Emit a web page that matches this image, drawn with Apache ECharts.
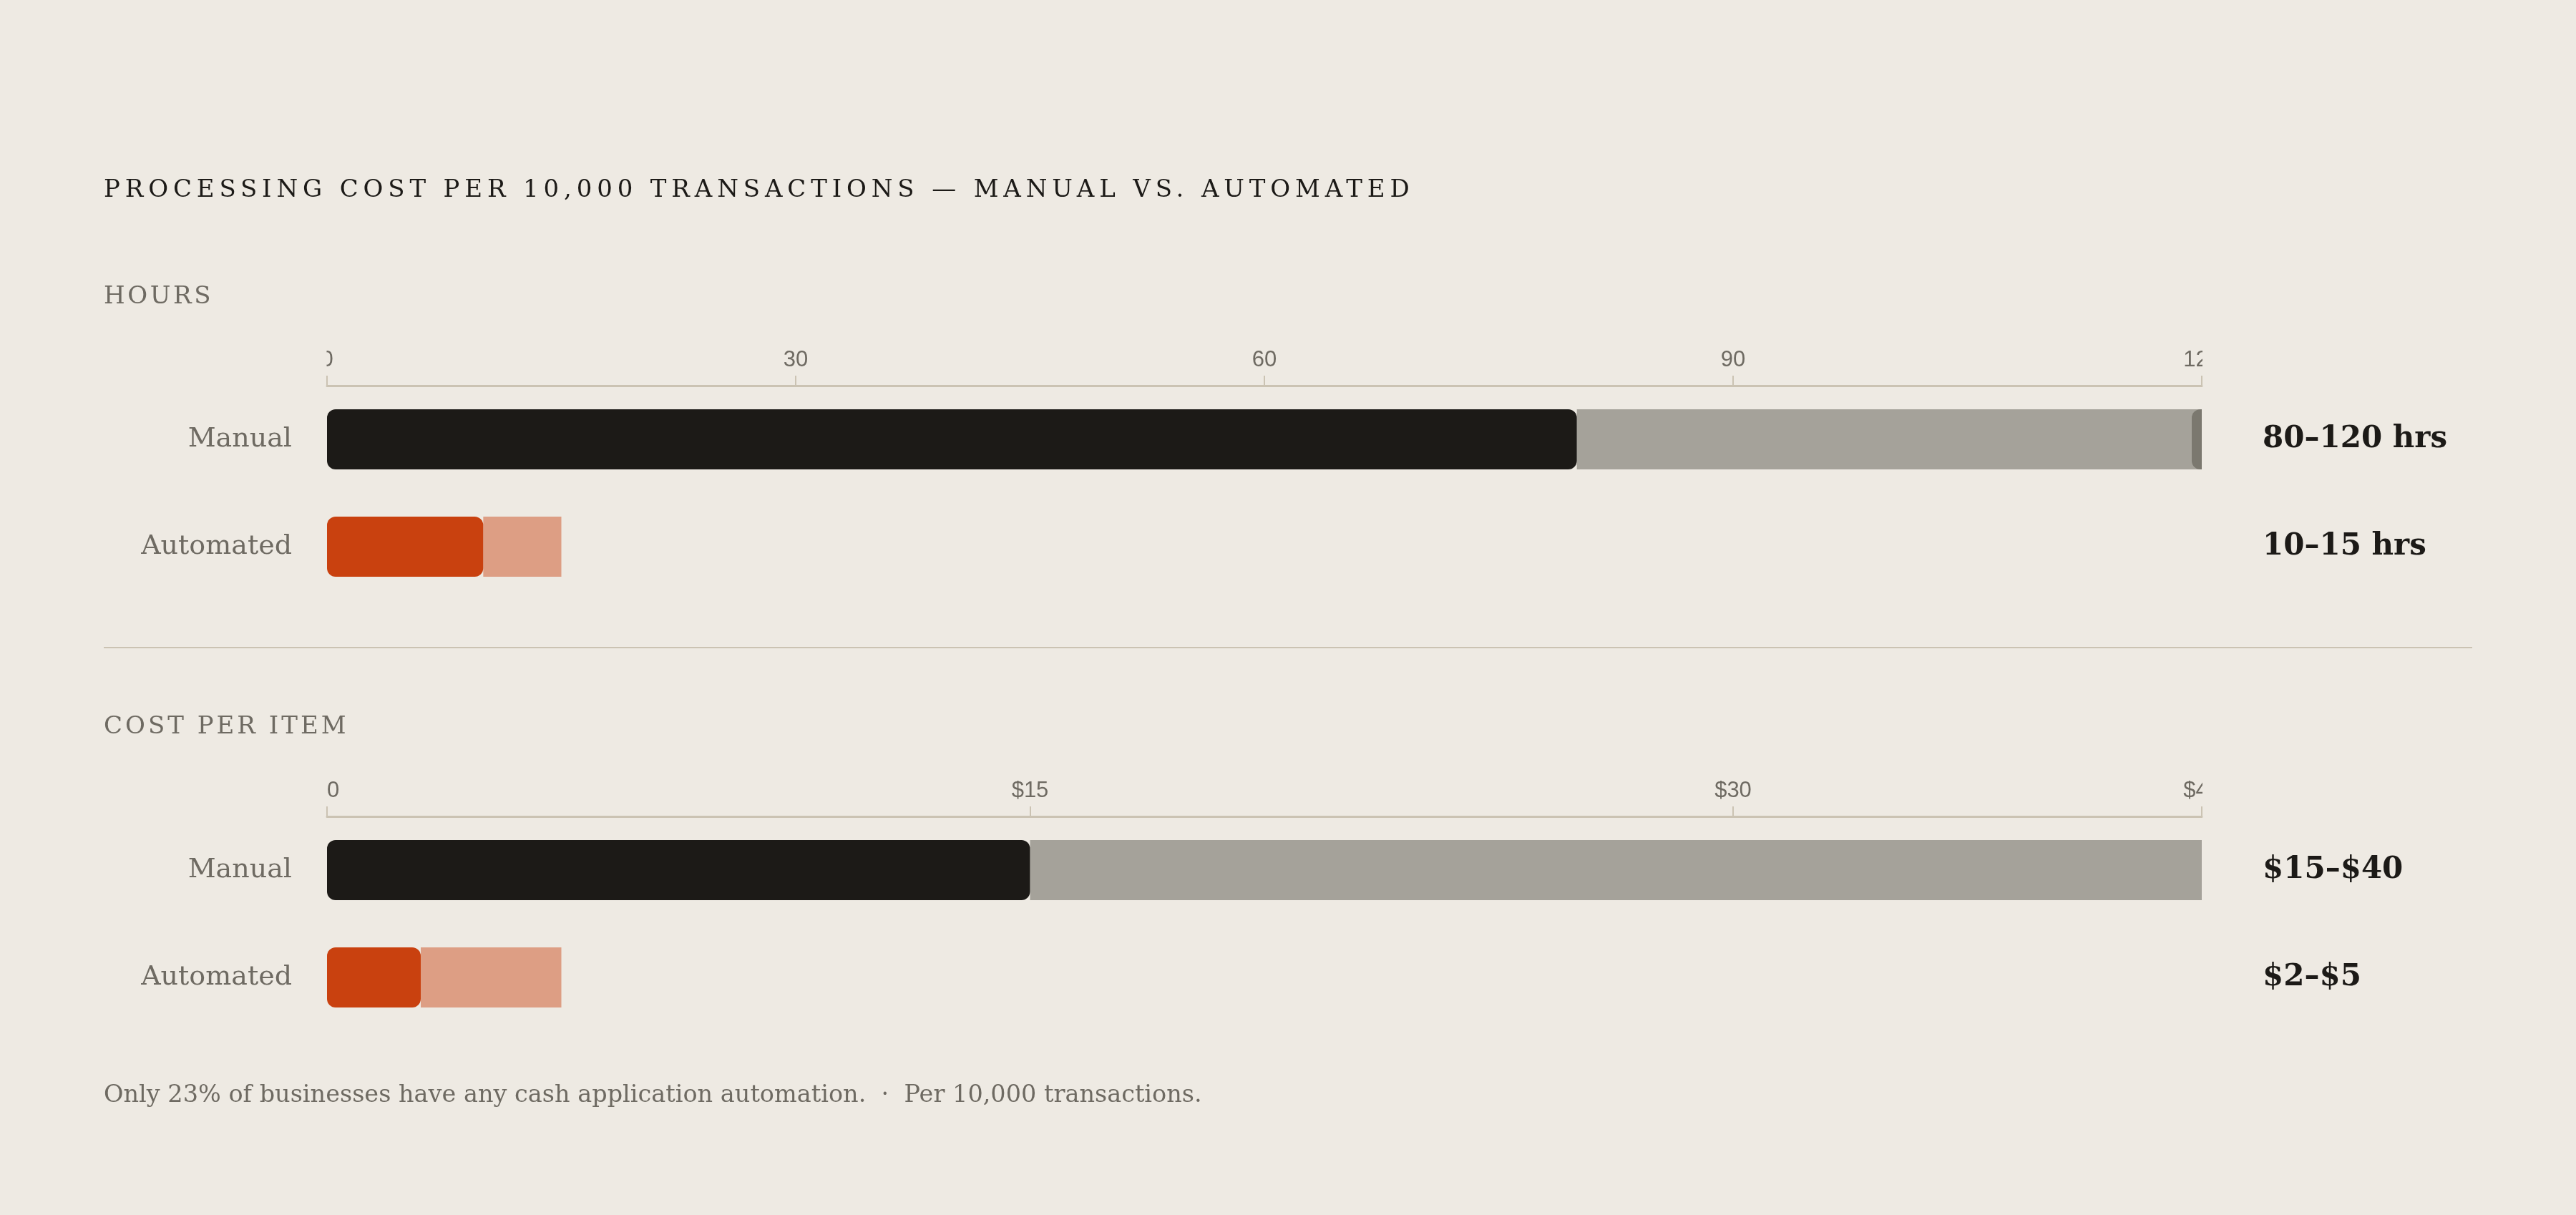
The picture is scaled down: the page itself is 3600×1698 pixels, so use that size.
<!DOCTYPE html>
<html>
<head>
<meta charset="utf-8">
<script src="https://cdn.jsdelivr.net/npm/echarts@6/dist/echarts.min.js"></script>
<style>
html,body{margin:0;padding:0;background:#eeeae3;}
#chart{width:3600px;height:1698px;}
</style>
</head>
<body>
<div id="chart"></div>
<script>
// ---------- data ----------
var categories = ['Manual', 'Automated'];
var hoursLow = [80, 10];
var hoursHigh = [120, 15];
var hoursCap = [120, null];
var costLow = [15, 2];
var costHigh = [40, 5];
var hoursAxis = {min: 0, max: 120, interval: 30};
var costAxis = {min: 0, max: 40, interval: 15};
var titleText = 'PROCESSING COST PER 10,000 TRANSACTIONS \u2014 MANUAL VS. AUTOMATED';
var sectionHours = 'HOURS';
var sectionCost = 'COST PER ITEM';
var footnote = 'Only 23% of businesses have any cash application automation.  \u00B7  Per 10,000 transactions.';

// letter-spacing for the spaced capital headings only
(function(){
  var spacing = {};
  spacing[titleText] = '6.85px';
  spacing[sectionHours] = '3.6px';
  spacing[sectionCost] = '4px';
  var P = CanvasRenderingContext2D.prototype;
  var of = P.fillText;
  P.fillText = function(t,x,y,w){
    if ('letterSpacing' in this) {
      this.letterSpacing = spacing.hasOwnProperty(t) ? spacing[t] : '0px';
    }
    if (w === undefined) of.call(this,t,x,y); else of.call(this,t,x,y,w);
    if ('letterSpacing' in this) this.letterSpacing = '0px';
  };
})();

// ---------- styles ----------
var BG = '#eeeae3';
var INK = '#1c1a17';
var MUTED = '#6e6a62';
var RULE = '#cbc3b3';
var lowColors = ['#1c1a17', '#c9410f'];
var rangeColors = ['#a5a29a', '#dd9e84'];
var SERIF = "'DejaVu Serif', serif";
var SANS = "'Liberation Sans', Arial, sans-serif";

var GL = 457, GW = 2620, GH = 300;
var tops = [539, 1141];

function xAxisFor(idx, ax, fmt, alignMin) {
  return {
    type: 'value', gridIndex: idx, position: 'top',
    min: ax.min, max: ax.max, interval: ax.interval,
    axisLine: {show: true, lineStyle: {color: RULE, width: 3}},
    axisTick: {show: true, length: 14, lineStyle: {color: RULE, width: 2}},
    splitLine: {show: false},
    axisLabel: {color: MUTED, fontSize: 31, fontFamily: SANS, margin: 20, formatter: fmt,
      alignMinLabel: alignMin || 'center', alignMaxLabel: 'center'}
  };
}
function yLeft(idx) {
  return {
    type: 'category', gridIndex: idx, data: categories, inverse: true, position: 'left',
    axisLine: {show: false}, axisTick: {show: false}, splitLine: {show: false},
    axisLabel: {color: MUTED, fontSize: 38, fontFamily: SERIF, margin: 49}
  };
}
function yRight(idx, fmt) {
  return {
    type: 'category', gridIndex: idx, data: categories, inverse: true, position: 'right',
    axisLine: {show: false}, axisTick: {show: false}, splitLine: {show: false},
    axisLabel: {color: INK, fontSize: 42, fontWeight: 'bold', fontFamily: SERIF, margin: 85, align: 'left',
      formatter: fmt}
  };
}
function lowData(arr) {
  return arr.map(function(v, i){ return {value: v, itemStyle: {color: lowColors[i], borderRadius: 12}}; });
}
function rangeData(lo, hi) {
  return hi.map(function(v, i){ return {value: v - lo[i], itemStyle: {color: rangeColors[i], borderRadius: 0}}; });
}

var option = {
  backgroundColor: BG,
  animation: false,
  grid: [
    {left: GL, width: GW, top: tops[0], height: GH, outerBoundsMode: 'none'},
    {left: GL, width: GW, top: tops[1], height: GH, outerBoundsMode: 'none'}
  ],
  xAxis: [
    xAxisFor(0, hoursAxis, function(v){ return String(v); }, 'center'),
    xAxisFor(1, costAxis, function(v){ return v === 0 ? '0' : '$' + v; }, 'left')
  ],
  yAxis: [
    yLeft(0),
    yRight(0, function(v, i){ return hoursLow[i] + '\u2013' + hoursHigh[i] + ' hrs'; }),
    yLeft(1),
    yRight(1, function(v, i){ return '$' + costLow[i] + '\u2013$' + costHigh[i]; })
  ],
  series: [
    {type: 'bar', name: 'hours-low', xAxisIndex: 0, yAxisIndex: 0, stack: 'h', barWidth: 84,
      data: lowData(hoursLow), z: 3},
    {type: 'bar', name: 'hours-range', xAxisIndex: 0, yAxisIndex: 0, stack: 'h', barWidth: 84,
      data: rangeData(hoursLow, hoursHigh), z: 2},
    {type: 'custom', name: 'hours-cap', xAxisIndex: 0, yAxisIndex: 0, z: 4,
      data: hoursCap.map(function(v, i){ return v == null ? null : [v, i]; }).filter(function(d){ return d; }),
      renderItem: function(params, api){
        var p = api.coord([api.value(0), api.value(1)]);
        return {type: 'rect', shape: {x: p[0] - 14, y: p[1] - 42, width: 14, height: 84, r: [12, 0, 0, 12]},
          style: {fill: '#7b786f'}};
      }},
    {type: 'bar', name: 'cost-low', xAxisIndex: 1, yAxisIndex: 2, stack: 'c', barWidth: 84,
      data: lowData(costLow), z: 3},
    {type: 'bar', name: 'cost-range', xAxisIndex: 1, yAxisIndex: 2, stack: 'c', barWidth: 84,
      data: rangeData(costLow, costHigh), z: 2}
  ],
  graphic: [
    {type: 'text', z: 100, style: {x: 145, y: 266, text: titleText, fill: INK, fontSize: 34,
      fontFamily: SERIF, verticalAlign: 'middle', align: 'left'}},
    {type: 'text', z: 100, style: {x: 145, y: 415, text: sectionHours, fill: MUTED, fontSize: 34,
      fontFamily: SERIF, verticalAlign: 'middle', align: 'left'}},
    {type: 'line', z: 100, shape: {x1: 145, y1: 905, x2: 3455, y2: 905}, style: {stroke: RULE, lineWidth: 2}},
    {type: 'text', z: 100, style: {x: 145, y: 1016, text: sectionCost, fill: MUTED, fontSize: 34,
      fontFamily: SERIF, verticalAlign: 'middle', align: 'left'}},
    {type: 'text', z: 100, style: {x: 145, y: 1531, text: footnote, fill: MUTED, fontSize: 33.5,
      fontFamily: SERIF, verticalAlign: 'middle', align: 'left'}},
    // clip the overflowing axis labels at the plot edges, as in the original
    {type: 'rect', z: 100, shape: {x: 3078, y: 468, width: 80, height: 64}, style: {fill: BG}},
    {type: 'rect', z: 100, shape: {x: 3078, y: 1070, width: 80, height: 64}, style: {fill: BG}},
    {type: 'rect', z: 100, shape: {x: 395, y: 468, width: 61.5, height: 54}, style: {fill: BG}}
  ]
};

var chart = echarts.init(document.getElementById('chart'), null, {renderer: 'canvas'});
chart.setOption(option);
</script>
</body>
</html>
